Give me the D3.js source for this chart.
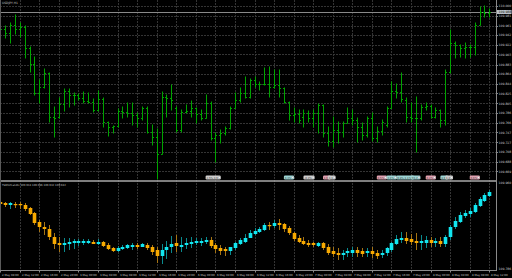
<!DOCTYPE html>
<html>
<head>
<meta charset="utf-8">
<script src="https://cdn.jsdelivr.net/npm/d3@7"></script>
<style>
  html, body { margin: 0; padding: 0; background: #000; }
  svg { display: block; }
  text { font-family: "DejaVu Sans", sans-serif; }
</style>
</head>
<body>
<svg width="512" height="278"></svg>
<script>
// USDJPY bars
const open = [
  109.954,109.954,109.946,109.962,109.954,109.958,109.916,109.884,109.826,109.838,
  109.866,109.778,109.778,109.804,109.830,109.822,109.822,109.816,109.810,109.808,
  109.792,109.814,109.768,109.758,109.760,109.790,109.788,109.786,109.782,109.776,
  109.796,109.748,109.738,109.704,109.818,109.816,109.796,109.752,109.788,109.790,
  109.796,109.784,109.776,109.806,109.736,109.742,109.746,109.756,109.796,109.812,
  109.826,109.818,109.852,109.844,109.844,109.844,109.838,109.842,109.836,109.808,
  109.782,109.784,109.778,109.786,109.776,109.786,109.802,109.746,109.730,109.752,
  109.748,109.766,109.776,109.772,109.758,109.742,109.776,109.736,109.750,109.762,
  109.796,109.830,109.828,109.812,109.778,109.776,109.776,109.798,109.800,109.778,
  109.792,109.772,109.868,109.926,109.922,109.916,109.918,109.918,109.962,109.988,
  109.986];
const high = [
  109.958,109.960,109.966,109.982,109.966,109.960,109.918,109.898,109.852,109.874,
  109.866,109.798,109.816,109.834,109.834,109.826,109.824,109.828,109.826,109.814,
  109.830,109.816,109.768,109.760,109.794,109.798,109.806,109.806,109.786,109.798,
  109.798,109.762,109.754,109.828,109.822,109.842,109.798,109.792,109.802,109.810,
  109.796,109.792,109.822,109.808,109.746,109.752,109.758,109.798,109.826,109.836,
  109.858,109.854,109.858,109.848,109.876,109.878,109.872,109.872,109.836,109.808,
  109.796,109.792,109.792,109.790,109.792,109.804,109.802,109.758,109.778,109.768,
  109.768,109.796,109.792,109.776,109.766,109.778,109.786,109.758,109.772,109.798,
  109.848,109.844,109.866,109.816,109.806,109.818,109.802,109.806,109.802,109.796,
  109.792,109.872,109.952,109.928,109.922,109.926,109.922,109.966,109.998,110.000,
  109.994];
const low = [
  109.950,109.936,109.926,109.944,109.938,109.896,109.868,109.822,109.806,109.836,
  109.768,109.738,109.776,109.790,109.798,109.802,109.812,109.806,109.806,109.788,
  109.790,109.758,109.740,109.746,109.758,109.776,109.778,109.762,109.758,109.772,
  109.746,109.722,109.654,109.704,109.778,109.792,109.748,109.748,109.786,109.778,
  109.766,109.772,109.776,109.732,109.688,109.726,109.742,109.754,109.796,109.808,
  109.816,109.816,109.838,109.832,109.842,109.818,109.836,109.818,109.806,109.772,
  109.768,109.766,109.758,109.768,109.758,109.746,109.738,109.720,109.718,109.726,
  109.738,109.766,109.762,109.728,109.732,109.738,109.730,109.728,109.742,109.758,
  109.796,109.816,109.808,109.768,109.768,109.708,109.772,109.792,109.776,109.776,
  109.758,109.762,109.866,109.896,109.898,109.896,109.898,109.902,109.962,109.978,
  109.978];
const close = [
  109.954,109.946,109.962,109.954,109.958,109.916,109.884,109.826,109.838,109.866,
  109.778,109.776,109.804,109.830,109.822,109.822,109.816,109.810,109.808,109.792,
  109.814,109.768,109.758,109.760,109.790,109.788,109.786,109.782,109.776,109.796,
  109.748,109.738,109.704,109.818,109.816,109.812,109.752,109.788,109.790,109.796,
  109.784,109.776,109.806,109.736,109.742,109.746,109.756,109.796,109.812,109.826,
  109.818,109.852,109.844,109.844,109.844,109.838,109.842,109.836,109.808,109.782,
  109.784,109.772,109.786,109.776,109.786,109.802,109.746,109.730,109.752,109.748,
  109.766,109.776,109.772,109.758,109.742,109.776,109.736,109.750,109.768,109.796,
  109.830,109.828,109.814,109.778,109.776,109.776,109.798,109.800,109.778,109.792,
  109.772,109.868,109.926,109.922,109.916,109.918,109.918,109.962,109.988,109.986,
  109.988];

// TSRforCandle sub-window candles
const tsrOpen = [
  109.922,109.920,109.916,109.918,109.918,109.916,109.910,109.900,109.882,109.872,
  109.868,109.852,109.840,109.836,109.838,109.840,109.840,109.840,109.840,109.842,
  109.838,109.842,109.836,109.830,109.824,109.828,109.830,109.832,109.836,109.832,
  109.836,109.832,109.826,109.814,109.826,109.832,109.840,109.832,109.836,109.838,
  109.840,109.840,109.842,109.846,109.836,109.830,109.828,109.824,109.830,109.838,
  109.842,109.850,109.858,109.862,109.866,109.876,109.874,109.880,109.878,109.870,
  109.860,109.850,109.844,109.840,109.840,109.834,109.840,109.832,109.824,109.820,
  109.816,109.820,109.820,109.826,109.824,109.820,109.824,109.820,109.816,109.820,
  109.826,109.838,109.846,109.850,109.848,109.844,109.840,109.840,109.846,109.840,
  109.844,109.838,109.852,109.872,109.882,109.894,109.898,109.902,109.914,109.924,
  109.934];
const tsrHigh = [
  109.926,109.922,109.922,109.922,109.922,109.920,109.912,109.902,109.886,109.882,
  109.876,109.860,109.852,109.850,109.850,109.848,109.848,109.848,109.848,109.846,
  109.848,109.844,109.840,109.832,109.834,109.836,109.838,109.840,109.840,109.840,
  109.840,109.836,109.832,109.838,109.844,109.854,109.856,109.852,109.850,109.852,
  109.850,109.850,109.852,109.852,109.840,109.836,109.832,109.832,109.842,109.850,
  109.858,109.866,109.870,109.872,109.880,109.882,109.886,109.888,109.880,109.874,
  109.862,109.856,109.852,109.846,109.842,109.842,109.842,109.838,109.832,109.830,
  109.826,109.830,109.832,109.832,109.830,109.830,109.832,109.826,109.826,109.832,
  109.842,109.856,109.862,109.862,109.858,109.860,109.856,109.854,109.852,109.850,
  109.852,109.856,109.876,109.892,109.902,109.906,109.910,109.920,109.932,109.940,
  109.946];
const tsrLow = [
  109.916,109.912,109.908,109.910,109.908,109.904,109.896,109.876,109.862,109.856,
  109.846,109.828,109.822,109.822,109.826,109.828,109.834,109.836,109.838,109.838,
  109.836,109.832,109.826,109.822,109.822,109.826,109.828,109.826,109.828,109.832,
  109.826,109.816,109.800,109.798,109.808,109.820,109.822,109.822,109.828,109.830,
  109.836,109.834,109.838,109.830,109.820,109.816,109.814,109.816,109.826,109.836,
  109.840,109.850,109.856,109.860,109.864,109.866,109.870,109.866,109.862,109.856,
  109.844,109.840,109.836,109.832,109.832,109.832,109.826,109.816,109.812,109.806,
  109.806,109.812,109.812,109.812,109.812,109.812,109.810,109.808,109.810,109.814,
  109.822,109.836,109.840,109.838,109.836,109.826,109.826,109.830,109.832,109.832,
  109.832,109.832,109.846,109.868,109.880,109.890,109.892,109.900,109.912,109.922,
  109.932];
const tsrClose = [
  109.918,109.916,109.920,109.916,109.916,109.908,109.898,109.880,109.872,109.868,
  109.852,109.838,109.836,109.840,109.842,109.844,109.844,109.844,109.844,109.838,
  109.842,109.834,109.828,109.824,109.830,109.832,109.836,109.836,109.832,109.838,
  109.830,109.822,109.814,109.826,109.832,109.838,109.834,109.836,109.840,109.842,
  109.844,109.844,109.846,109.834,109.828,109.824,109.824,109.832,109.840,109.846,
  109.850,109.860,109.864,109.868,109.876,109.874,109.880,109.876,109.868,109.860,
  109.848,109.842,109.838,109.836,109.836,109.840,109.830,109.820,109.818,109.816,
  109.820,109.824,109.826,109.820,109.818,109.824,109.818,109.814,109.820,109.830,
  109.840,109.848,109.850,109.844,109.842,109.840,109.844,109.846,109.840,109.844,
  109.838,109.852,109.872,109.884,109.896,109.900,109.904,109.916,109.928,109.936,
  109.942];

// axis labels
const priceTicks = [110.000,109.981,109.961,109.942,109.922,109.903,109.883,109.864,109.844,
  109.825,109.805,109.786,109.766,109.747,109.727,109.708,109.688,109.669];
const subTicks = [109.960, 109.786];
const timeLabels = [
  "2 May 08:00","2 May 12:00","2 May 16:00","2 May 20:00","3 May 00:00","3 May 04:00",
  "3 May 08:00","3 May 12:00","3 May 16:00","3 May 20:00","6 May 00:00","6 May 04:00",
  "6 May 08:00","6 May 12:00","6 May 16:00","6 May 20:00","7 May 00:00","7 May 04:00",
  "7 May 08:00","7 May 12:00","7 May 16:00","7 May 20:00","8 May 00:00","8 May 04:00",
  "8 May 08:00","8 May 12:00"];
const barsPerLabel = 4;

// calendar events along the bottom of the price window
const eventBars   = [42, 58, 62, 66, 67, 77, 79, 81, 84, 87, 90, 91, 96];
const eventKinds  = ["grey","cyan","grey","pink","grey","pink","cyan","cyan","cyan","pink","cyan","grey","pink"];
const eventLabels = ["2.5% 3.6","0.3%","-0.2%","1.6","3.1","0.5%","2.1%","0.8% 1.1%","55.2","0.2%","4.9","1.2","0.6%"];

const symbolTitle = "USDJPY,H1";
const indicatorTitle = "TSRforCandle";

// layout
const svg = d3.select("svg");
const plotRight = 496;
const subTop = 181, subBottom = 270;
const n = open.length;

const x = d3.scaleLinear().domain([0, n - 1]).range([0.2, 489.3]);
const y = d3.scaleLinear().domain([110.000, 109.660]).range([6, 176]);
const y2 = d3.scaleLinear().domain([109.960, 109.786]).range([183, 270]);
const px = i => Math.round(x(i)) + 0.5;

svg.append("rect").attr("width", 512).attr("height", 278).attr("fill", "#000");

// grid
const grid = svg.append("g").attr("stroke", "#343434").attr("stroke-width", 1)
  .attr("stroke-dasharray", "2,1");
grid.selectAll("line.h").data(priceTicks).join("line")
  .attr("x1", 0).attr("x2", plotRight)
  .attr("y1", d => Math.round(y(d)) + 0.5).attr("y2", d => Math.round(y(d)) + 0.5);
grid.selectAll("line.v").data(timeLabels).join("line")
  .attr("x1", (d, k) => px(k * barsPerLabel)).attr("x2", (d, k) => px(k * barsPerLabel))
  .attr("y1", 0).attr("y2", subBottom);

// bid line
const last = close[n - 1];
svg.append("line").attr("x1", 0).attr("x2", plotRight)
  .attr("y1", Math.round(y(last)) + 0.5).attr("y2", Math.round(y(last)) + 0.5)
  .attr("stroke", "#8a8a8a").attr("stroke-width", 1);

// OHLC bars
const bars = svg.append("g").attr("stroke", "#00a400").attr("stroke-width", 1);
const idx = d3.range(n);
bars.selectAll("line.hl").data(idx).join("line")
  .attr("x1", px).attr("x2", px)
  .attr("y1", i => y(high[i]) - 0.5).attr("y2", i => y(low[i]) + 0.5);
bars.selectAll("line.o").data(idx).join("line")
  .attr("x1", i => px(i) - 1.5).attr("x2", px)
  .attr("y1", i => Math.round(y(open[i])) + 0.5).attr("y2", i => Math.round(y(open[i])) + 0.5);
bars.selectAll("line.c").data(idx).join("line")
  .attr("x1", px).attr("x2", i => px(i) + 1.5)
  .attr("y1", i => Math.round(y(close[i])) + 0.5).attr("y2", i => Math.round(y(close[i])) + 0.5);

// events
const kindFill = { grey: "#cfcfcf", cyan: "#9ed6d6", pink: "#e2a2b2" };
const evG = svg.append("g").selectAll("g").data(eventBars).join("g")
  .attr("transform", d => `translate(${x(d)},175.6)`);
evG.append("rect").attr("y", 0).attr("height", 3.8).attr("rx", 1.2)
  .attr("fill", (d, k) => kindFill[eventKinds[k]]);
evG.append("text").attr("x", 0.8).attr("y", 3.0)
  .attr("font-size", 2.6).attr("fill", "#3a3a3a")
  .text((d, k) => eventLabels[k])
  .each(function () {
    const w = this.getComputedTextLength();
    const g = d3.select(this.parentNode);
    g.select("rect").attr("width", w + 3.6);
    g.append("circle").attr("cx", w + 2.2).attr("cy", 1.9).attr("r", 1.0)
      .attr("fill", "#f4f4f4").attr("stroke", "#8a8a8a").attr("stroke-width", 0.3);
  });

// sub window candles
const up = i => tsrClose[i] >= tsrOpen[i];
const sub = svg.append("g");
sub.selectAll("line").data(idx).join("line")
  .attr("x1", px).attr("x2", px)
  .attr("y1", i => y2(tsrHigh[i])).attr("y2", i => y2(tsrLow[i]))
  .attr("stroke", i => up(i) ? "#0a8a8e" : "#a67414").attr("stroke-width", 1);
sub.selectAll("rect").data(idx).join("rect")
  .attr("x", i => px(i) - 1.8).attr("width", 3.6)
  .attr("y", i => y2(Math.max(tsrOpen[i], tsrClose[i])))
  .attr("height", i => Math.max(1.2, y2(Math.min(tsrOpen[i], tsrClose[i])) - y2(Math.max(tsrOpen[i], tsrClose[i]))))
  .attr("fill", i => up(i) ? "#12e6f0" : "#f7a900");

// frame lines
svg.append("line").attr("x1", 0).attr("x2", plotRight).attr("y1", subTop).attr("y2", subTop)
  .attr("stroke", "#a8a8a8").attr("stroke-width", 1.6);
svg.append("line").attr("x1", 0).attr("x2", plotRight + 1).attr("y1", subBottom + 0.5).attr("y2", subBottom + 0.5)
  .attr("stroke", "#8a8a8a");
svg.append("line").attr("x1", plotRight + 0.5).attr("x2", plotRight + 0.5).attr("y1", 0).attr("y2", subBottom + 1)
  .attr("stroke", "#8a8a8a");
svg.append("line").attr("x1", 0.5).attr("x2", 0.5).attr("y1", 0).attr("y2", subBottom)
  .attr("stroke", "#5a5a5a");

// price axis
const axisFont = 3.1;
svg.append("g").attr("font-size", axisFont).attr("fill", "#c4c4c4")
  .selectAll("text").data(priceTicks).join("text")
  .attr("x", plotRight + 2.5).attr("y", d => y(d) + 1.1).text(d => d.toFixed(3));
svg.append("g").attr("stroke", "#8a8a8a").selectAll("line").data(priceTicks).join("line")
  .attr("x1", plotRight).attr("x2", plotRight + 2)
  .attr("y1", d => Math.round(y(d)) + 0.5).attr("y2", d => Math.round(y(d)) + 0.5);

// bid label
svg.append("rect").attr("x", plotRight + 1).attr("y", y(last) - 2).attr("width", 14.5).attr("height", 4)
  .attr("fill", "#b9c0c8");
svg.append("text").attr("x", plotRight + 2.5).attr("y", y(last) + 1.1)
  .attr("font-size", axisFont).attr("fill", "#202020").text(last.toFixed(3));

// sub window axis
svg.append("g").attr("font-size", axisFont).attr("fill", "#c4c4c4")
  .selectAll("text").data(subTicks).join("text")
  .attr("x", plotRight + 2.5).attr("y", d => Math.min(y2(d) + 1.1, subBottom - 0.3)).text(d => d.toFixed(3));

// time axis
svg.append("g").attr("font-size", 2.7).attr("fill", "#c4c4c4")
  .selectAll("text").data(timeLabels).join("text")
  .attr("x", (d, k) => px(k * barsPerLabel) + 1.5).attr("y", 275.6).text(d => d);
svg.append("g").attr("stroke", "#8a8a8a").selectAll("line").data(timeLabels).join("line")
  .attr("x1", (d, k) => px(k * barsPerLabel)).attr("x2", (d, k) => px(k * barsPerLabel))
  .attr("y1", subBottom).attr("y2", subBottom + 2.5);

// titles
svg.append("text").attr("x", 2).attr("y", 3.6).attr("font-size", 3.0).attr("fill", "#c4c4c4")
  .text(symbolTitle);
svg.append("text").attr("x", 2).attr("y", 185.6).attr("font-size", 2.6).attr("fill", "#c4c4c4")
  .text([indicatorTitle, tsrOpen[n - 1], tsrHigh[n - 1], tsrLow[n - 1], tsrClose[n - 1]]
    .map(v => typeof v === "number" ? v.toFixed(3) : v).join(" "));
</script>
</body>
</html>
